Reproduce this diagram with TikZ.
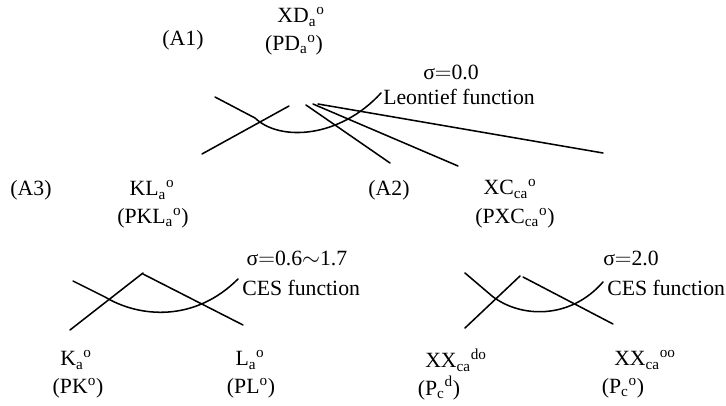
\documentclass[tikz,border=0pt]{standalone}
\usepackage{fontspec}
\setmainfont{Liberation Serif}
\usepackage{tikz}
\newcommand{\ssup}[2]{\textsubscript{#1}\textsuperscript{#2}}
\tikzset{lbl/.style={inner sep=0pt, font=\fontsize{16.3}{19}\selectfont},
  nestline/.style={line width=1.15pt, draw=black, line cap=round}}
\begin{document}
\begin{tikzpicture}[x=0.75pt, y=-0.75pt]
\useasboundingbox (0,0) rectangle (726,406);
% top level (A1)
\node[lbl] (a1) at (183,40) {(A1)};
\node[lbl] (xd) at (301,17) {XD\ssup{a}{o}};
\node[lbl] (pd) at (294,45) {(PD\ssup{a}{o})};
\node[lbl] (sig1) at (451,72) {σ$=$0.0};
\node[lbl, anchor=west] (leon) at (383,97) {Leontief function};
\draw[nestline] (215,97) -- (255,118) .. controls (280,142) and (340,138) .. (381,93);
\draw[nestline] (202,154) -- (289,106);
\draw[nestline] (306,105) -- (390,163);
\draw[nestline] (313,104) -- (458,166);
\draw[nestline] (318,104) -- (603,153);
% second level
\node[lbl] (a3) at (31,190) {(A3)};
\node[lbl] (kl) at (152,190) {KL\ssup{a}{o}};
\node[lbl] (pkl) at (153,218) {(PKL\ssup{a}{o})};
\node[lbl] (a2) at (389,190) {(A2)};
\node[lbl] (xc) at (510,189) {XC\ssup{ca}{o}};
\node[lbl] (pxc) at (515,218) {(PXC\ssup{ca}{o})};
% CES nest (A3)
\node[lbl] (sig2) at (297,258) {σ$=$0.6$\sim$1.7};
\node[lbl, anchor=west] (ces2) at (242,288) {CES function};
\draw[nestline] (73,281) -- (105,297) .. controls (140,318) and (195,322) .. (238,279);
\draw[nestline] (70,330) -- (143,273);
\draw[nestline] (143,274) -- (243,325);
\node[lbl] (k) at (76,360) {K\ssup{a}{o}};
\node[lbl] (pk) at (78,388) {(PK\textsuperscript{o})};
\node[lbl] (l) at (250,360) {L\ssup{a}{o}};
\node[lbl] (pl) at (251,388) {(PL\textsuperscript{o})};
% CES nest (A2)
\node[lbl] (sig3) at (631,258) {σ$=$2.0};
\node[lbl, anchor=west] (ces3) at (607,288) {CES function};
\draw[nestline] (465,273) -- (492,296) .. controls (520,318) and (570,320) .. (603,282);
\draw[nestline] (465,328) -- (520,276);
\draw[nestline] (523,277) -- (613,324);
\node[lbl] (xxd) at (456,360) {XX\ssup{ca}{do}};
\node[lbl] (pcd) at (439,388) {(P\ssup{c}{d})};
\node[lbl] (xxo) at (645,360) {XX\ssup{ca}{oo}};
\node[lbl] (pco) at (623,388) {(P\ssup{c}{o})};
\end{tikzpicture}
\end{document}
